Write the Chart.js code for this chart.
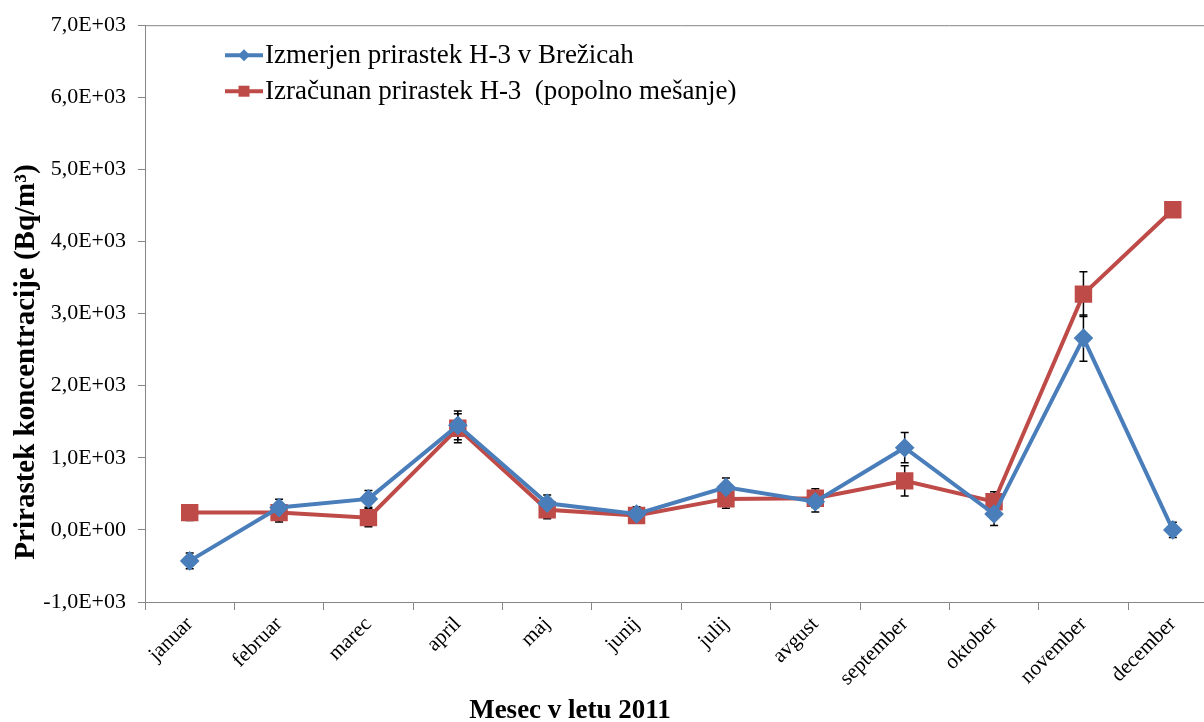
<!DOCTYPE html>
<html>
<head>
<meta charset="utf-8">
<script src="https://cdn.jsdelivr.net/npm/chart.js@4"></script>
<style>
  html, body { margin: 0; padding: 0; background: #fff; overflow: hidden; width: 1204px; height: 722px; position: relative; }
  #chart { position: absolute; left: 0; top: 0; display: block; }
</style>
</head>
<body>
<canvas id="chart" width="1231" height="722"></canvas>
<script>
// podatki
const months = ['januar', 'februar', 'marec', 'april', 'maj', 'junij', 'julij', 'avgust', 'september', 'oktober', 'november', 'december'];
const measured = [-430, 310, 430, 1450, 370, 220, 590, 390, 1140, 220, 2660, 0];
const measuredErr = [110, 115, 115, 200, 115, 100, 130, 140, 210, 160, 320, 105];
const calculated = [240, 240, 170, 1410, 280, 200, 430, 440, 680, 390, 3270, 4440];
const calculatedErr = [110, 130, 125, 200, 125, 100, 130, 130, 210, 140, 310, 100];

const yMin = -1000, yMax = 7000, yStep = 1000;
const FONT = '"Liberation Serif", "Times New Roman", serif';

// format 1,0E+03
function sciLabel(v) {
    if (v === 0) return '0,0E+00';
    const exp = Math.floor(Math.log10(Math.abs(v)));
    const mant = v / Math.pow(10, exp);
    const sign = exp >= 0 ? '+' : '-';
    return mant.toFixed(1).replace('.', ',') + 'E' + sign + String(Math.abs(exp)).padStart(2, '0');
}

// error bars drawn under markers
const errorBars = {
    id: 'errorBars',
    beforeDatasetsDraw(chart) {
        const ctx = chart.ctx;
        const x = chart.scales.x, y = chart.scales.y;
        ctx.save();
        ctx.strokeStyle = '#000';
        ctx.lineWidth = 1.5;
        chart.data.datasets.forEach(ds => {
            ds.data.forEach((v, i) => {
                const e = ds.errors[i];
                const px = x.getPixelForValue(i);
                const top = y.getPixelForValue(v + e);
                const bot = y.getPixelForValue(v - e);
                ctx.beginPath();
                ctx.moveTo(px, top); ctx.lineTo(px, bot);
                ctx.moveTo(px - 4, top); ctx.lineTo(px + 4, top);
                ctx.moveTo(px - 4, bot); ctx.lineTo(px + 4, bot);
                ctx.stroke();
            });
        });
        ctx.restore();
    }
};

// okvir (zgoraj) + legenda + naslovi osi
const extras = {
    id: 'extras',
    beforeDatasetsDraw(chart) {
        const { ctx, chartArea: a } = chart;
        ctx.save();
        ctx.strokeStyle = '#868686';
        ctx.lineWidth = 1;
        ctx.beginPath();
        ctx.moveTo(a.left, a.top + 0.5); ctx.lineTo(a.right, a.top + 0.5);
        ctx.stroke();
        ctx.restore();
    },
    afterDraw(chart) {
        const { ctx, chartArea: a } = chart;
        ctx.save();
        // legenda
        chart.data.datasets.forEach((ds, i) => {
            const ly = a.top + 30 + i * 36;
            const lx = a.left + 80;
            ctx.strokeStyle = ds.borderColor;
            ctx.lineWidth = 4;
            ctx.beginPath();
            ctx.moveTo(lx, ly); ctx.lineTo(lx + 38, ly);
            ctx.stroke();
            ctx.fillStyle = ds.backgroundColor;
            if (ds.pointStyle === 'rect') {
                ctx.fillRect(lx + 19 - 5.5, ly - 5.5, 11, 11);
            } else {
                ctx.beginPath();
                ctx.moveTo(lx + 19, ly - 6); ctx.lineTo(lx + 25, ly);
                ctx.lineTo(lx + 19, ly + 6); ctx.lineTo(lx + 13, ly);
                ctx.closePath(); ctx.fill();
            }
            ctx.fillStyle = '#000';
            ctx.font = '27px ' + FONT;
            ctx.textBaseline = 'middle';
            ctx.textAlign = 'left';
            ctx.fillText(ds.label, lx + 40, ly + 1);
        });
        // naslov osi x
        ctx.font = 'bold 27px ' + FONT;
        ctx.textAlign = 'center';
        ctx.textBaseline = 'alphabetic';
        ctx.fillText('Mesec v letu 2011', 570, 718);
        // naslov osi y
        ctx.font = 'bold 29px ' + FONT;
        ctx.translate(34, 362);
        ctx.rotate(-Math.PI / 2);
        ctx.fillText('Prirastek koncentracije (Bq/m\u00B3)', 0, 0);
        ctx.restore();
    }
};

new Chart(document.getElementById('chart'), {
    type: 'line',
    data: {
        labels: months,
        datasets: [
            {
                label: 'Izmerjen prirastek H-3 v Brežicah',
                data: measured,
                errors: measuredErr,
                borderColor: '#4A7EBB',
                backgroundColor: '#4A7EBB',
                borderWidth: 4,
                pointStyle: 'rectRot',
                pointRadius: 7,
                pointHoverRadius: 7,
                tension: 0
            },
            {
                label: 'Izračunan prirastek H-3  (popolno mešanje)',
                data: calculated,
                errors: calculatedErr,
                borderColor: '#BE4B48',
                backgroundColor: '#BE4B48',
                borderWidth: 4,
                pointStyle: 'rect',
                pointRadius: 9.5,
                pointHoverRadius: 9.5,
                tension: 0
            }
        ]
    },
    options: {
        responsive: false,
        animation: false,
        devicePixelRatio: 1,
        layout: { padding: { top: 22, right: 0, bottom: 0, left: 0 } },
        plugins: {
            legend: { display: false },
            tooltip: { enabled: false }
        },
        scales: {
            x: {
                offset: true,
                grid: { display: true, offset: true, drawOnChartArea: false, drawTicks: true, tickLength: 8, color: '#868686' },
                border: { color: '#868686', width: 1 },
                ticks: { minRotation: 45, maxRotation: 45, padding: 2, color: '#000', font: { family: FONT, size: 21 } },
                afterFit(scale) { scale.height = 120; }
            },
            y: {
                min: yMin,
                max: yMax,
                grid: { display: true, drawOnChartArea: false, drawTicks: true, tickLength: 7, color: '#868686' },
                border: { color: '#868686', width: 1 },
                ticks: { stepSize: yStep, padding: 12, color: '#000', font: { family: FONT, size: 22 }, callback: v => sciLabel(v) },
                afterFit(scale) { scale.width = 145; }
            }
        }
    },
    plugins: [errorBars, extras]
});
</script>
</body>
</html>
